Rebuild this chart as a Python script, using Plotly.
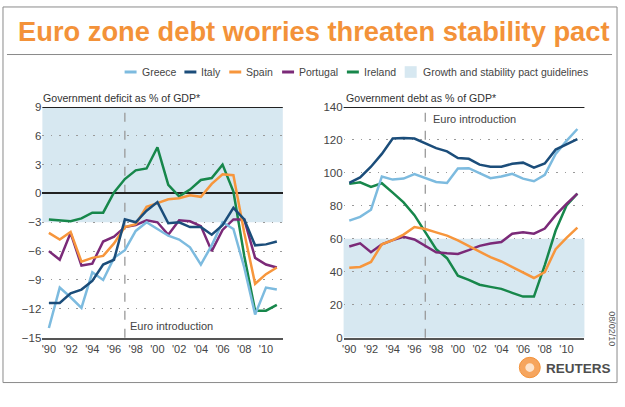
import plotly.graph_objects as go

W, H = 625, 407

years = list(range(1990, 2012))

# Government deficit as % of GDP
greece_def = [-14.0, -9.8, -10.8, -11.9, -8.2, -9.0, -6.7, -5.9, -3.9, -3.0, -3.7,
              -4.4, -4.8, -5.6, -7.4, -5.4, -3.0, -3.7, -7.7, -12.6, -9.8, -10.0]
italy_def = [-11.4, -11.4, -10.4, -10.0, -9.1, -7.4, -6.9, -2.7, -3.0, -1.8, -0.9,
             -3.1, -3.0, -3.5, -3.5, -4.3, -3.3, -1.5, -2.7, -5.4, -5.3, -5.0]
spain_def = [-4.1, -4.8, -4.0, -7.1, -6.7, -6.5, -5.2, -3.5, -3.2, -1.4, -1.0,
             -0.6, -0.5, -0.2, -0.35, 1.0, 2.0, 1.9, -4.1, -9.4, -8.4, -7.7]
portugal_def = [-6.0, -6.9, -4.1, -7.5, -7.3, -5.0, -4.5, -3.5, -3.3, -2.8, -3.0,
                -4.3, -2.8, -2.9, -3.4, -6.0, -3.8, -2.7, -2.7, -6.7, -7.4, -7.7]
ireland_def = [-2.7, -2.8, -2.9, -2.6, -2.0, -2.0, 0.1, 1.5, 2.4, 2.6, 4.8,
               0.9, -0.3, 0.4, 1.4, 1.6, 3.0, 0.2, -6.5, -12.2, -12.2, -11.6]

# Government debt as % of GDP
greece_debt = [71.0, 73.3, 77.6, 97.8, 95.9, 96.5, 99.2, 96.8, 94.5, 93.9, 102.7,
               102.8, 99.8, 96.8, 97.8, 99.4, 96.5, 94.9, 98.8, 111.5, 119.4, 126.6]
italy_debt = [93.9, 97.2, 103.7, 111.5, 120.8, 121.2, 120.8, 118.0, 115.0, 113.0, 109.0,
              108.5, 105.0, 103.7, 103.7, 105.5, 106.2, 103.1, 105.7, 114.1, 117.4, 120.4]
spain_debt = [42.4, 42.9, 45.9, 56.6, 59.2, 62.5, 67.1, 65.9, 63.9, 61.9, 59.0,
              55.5, 52.5, 48.8, 46.2, 43.0, 39.6, 36.2, 39.8, 53.7, 60.6, 66.8]
portugal_debt = [55.3, 57.2, 51.8, 56.6, 59.2, 61.2, 59.6, 55.7, 51.8, 51.2, 50.8,
                 53.1, 55.7, 57.1, 58.0, 63.1, 63.9, 63.1, 66.2, 74.3, 81.2, 87.4]
ireland_debt = [93.3, 94.3, 91.4, 93.7, 88.0, 82.1, 74.3, 64.0, 53.7, 48.2, 37.6,
                35.1, 32.1, 30.8, 29.6, 27.2, 24.9, 24.9, 44.0, 65.0, 80.2, 87.4]

countries = ["Greece", "Italy", "Spain", "Portugal", "Ireland"]
colors = {"Greece": "#7dbbdf", "Italy": "#1b4d7a", "Spain": "#f7963c",
          "Portugal": "#7b2a78", "Ireland": "#17874b"}
deficit = {"Greece": greece_def, "Italy": italy_def, "Spain": spain_def,
           "Portugal": portugal_def, "Ireland": ireland_def}
debt = {"Greece": greece_debt, "Italy": italy_debt, "Spain": spain_debt,
        "Portugal": portugal_debt, "Ireland": ireland_debt}

xtick_vals = list(range(1990, 2011, 2))
xtick_text = ["'90", "'92", "'94", "'96", "'98", "'00", "'02", "'04", "'06", "'08", "'10"]
def_ticks = [9, 6, 3, 0, -3, -6, -9, -12, -15]
debt_ticks = [140, 120, 100, 80, 60, 40, 20, 0]
euro_year = 1997
pact_deficit = [-3, 9]
pact_debt = [0, 60]

FONT = "Liberation Sans, Arial, sans-serif"
TXT = "#444444"

def px(x):
    return x / W

def py(y):
    return 1 - y / H

fig = go.Figure()
draw_order = ["Ireland", "Portugal", "Spain", "Greece", "Italy"]
for c in draw_order:
    fig.add_trace(go.Scatter(x=years, y=deficit[c], mode="lines", name=c,
                             line=dict(color=colors[c], width=2.5),
                             xaxis="x", yaxis="y", showlegend=False))
    fig.add_trace(go.Scatter(x=years, y=debt[c], mode="lines", name=c,
                             line=dict(color=colors[c], width=2.5),
                             xaxis="x2", yaxis="y2", showlegend=False))

ydom = [py(341.7), py(104)]
common_x = dict(tickvals=xtick_vals, ticktext=xtick_text, showgrid=False,
                zeroline=False, showline=True, linecolor="#555555", linewidth=1.5,
                ticks="", tickfont=dict(family=FONT, size=11, color=TXT))
common_y = dict(showgrid=True, gridcolor="#9a9a9a", griddash="1.5px,7px", gridwidth=1.3,
                ticks="", tickfont=dict(family=FONT, size=11.5, color=TXT),
                showline=False)

fig.update_layout(
    width=W, height=H, margin=dict(l=0, r=0, t=0, b=0),
    paper_bgcolor="white", plot_bgcolor="rgba(0,0,0,0)",
    showlegend=False,
    xaxis=dict(domain=[px(40.5), px(281.7)], range=[1989.4, 2011.55], anchor="y", **common_x),
    yaxis=dict(domain=ydom, range=[-15, 9], tickvals=def_ticks, anchor="x",
               zeroline=True, zerolinecolor="#222222", zerolinewidth=2, **common_y),
    xaxis2=dict(domain=[px(342.7), px(584.3)], range=[1989.48, 2011.65], anchor="y2", **common_x),
    yaxis2=dict(domain=ydom, range=[0, 140], tickvals=debt_ticks, anchor="x2",
                zeroline=False, **common_y),
)

shapes = []
# pact guideline shading
shapes.append(dict(type="rect", xref="x domain", yref="y", x0=0, x1=1,
                   y0=pact_deficit[0], y1=pact_deficit[1], fillcolor="#d7e8f1",
                   line=dict(width=0), layer="below"))
shapes.append(dict(type="rect", xref="x2 domain", yref="y2", x0=0, x1=1,
                   y0=pact_debt[0], y1=pact_debt[1], fillcolor="#d7e8f1",
                   line=dict(width=0), layer="below"))
# top black lines
shapes.append(dict(type="line", xref="x domain", yref="y", x0=0, x1=1, y0=9, y1=9,
                   line=dict(color="#222222", width=2)))
shapes.append(dict(type="line", xref="x2 domain", yref="y2", x0=0, x1=1, y0=140, y1=140,
                   line=dict(color="#222222", width=2)))
# euro introduction dashed lines
shapes.append(dict(type="line", xref="x", yref="y domain", x0=euro_year, x1=euro_year,
                   y0=0, y1=1, line=dict(color="#999999", width=1.3, dash="dash"), layer="below"))
shapes.append(dict(type="line", xref="x2", yref="y2 domain", x0=euro_year, x1=euro_year,
                   y0=0, y1=1, line=dict(color="#999999", width=1.3, dash="dash"), layer="below"))
# frame and title rule
shapes.append(dict(type="rect", xref="paper", yref="paper", x0=px(1), x1=px(617),
                   y0=py(388), y1=py(1), line=dict(color="#8a8a8a", width=1)))
shapes.append(dict(type="line", xref="paper", yref="paper", x0=px(5), x1=px(612),
                   y0=py(50), y1=py(50), line=dict(color="#8a8a8a", width=1)))

annotations = []
# title
annotations.append(dict(text="<b>Euro zone debt worries threaten stability pact</b>",
                        xref="paper", yref="paper", x=px(14), y=py(26),
                        xanchor="left", yanchor="middle", showarrow=False,
                        font=dict(family=FONT, size=27.3, color="#f39239")))

# legend
LEG = 10.5
leg_y = 68
leg_items = [("Greece", 123), ("Italy", 183), ("Spain", 228), ("Portugal", 281), ("Ireland", 346)]
for name, x0 in leg_items:
    shapes.append(dict(type="line", xref="paper", yref="paper", x0=px(x0), x1=px(x0 + 12),
                       y0=py(leg_y), y1=py(leg_y), line=dict(color=colors[name], width=3)))
    annotations.append(dict(text=name, xref="paper", yref="paper", x=px(x0 + 15), y=py(leg_y),
                            xanchor="left", yanchor="middle", showarrow=False,
                            font=dict(family=FONT, size=LEG, color=TXT)))
shapes.append(dict(type="rect", xref="paper", yref="paper", x0=px(404), x1=px(416),
                   y0=py(leg_y + 6), y1=py(leg_y - 6), fillcolor="#d7e8f1", line=dict(width=0)))
annotations.append(dict(text="Growth and stability pact guidelines", xref="paper", yref="paper",
                        x=px(420), y=py(leg_y), xanchor="left", yanchor="middle", showarrow=False,
                        font=dict(family=FONT, size=LEG, color=TXT)))

# panel subtitles
annotations.append(dict(text="Government deficit as % of GDP*", xref="paper", yref="paper",
                        x=px(39), y=py(95), xanchor="left", yanchor="middle", showarrow=False,
                        font=dict(family=FONT, size=10.6, color="#333333")))
annotations.append(dict(text="Government debt as % of GDP*", xref="paper", yref="paper",
                        x=px(343), y=py(95), xanchor="left", yanchor="middle", showarrow=False,
                        font=dict(family=FONT, size=10.6, color="#333333")))
# euro introduction labels
annotations.append(dict(text="Euro introduction", xref="x", yref="y", x=euro_year, y=-13.8,
                        xanchor="left", yanchor="middle", xshift=3, showarrow=False,
                        font=dict(family=FONT, size=11, color=TXT)))
annotations.append(dict(text="Euro introduction", xref="x2", yref="y2", x=euro_year, y=132.5,
                        xanchor="left", yanchor="middle", xshift=6, showarrow=False,
                        font=dict(family=FONT, size=11, color=TXT)))
# date
annotations.append(dict(text="08/02/10", xref="paper", yref="paper", x=px(612), y=py(332),
                        xanchor="center", yanchor="middle", textangle=90, showarrow=False,
                        font=dict(family=FONT, size=9, color="#555555")))
# Reuters logo
shapes.append(dict(type="circle", xref="paper", yref="paper", x0=px(519), x1=px(540),
                   y0=py(383), y1=py(362), fillcolor="#f6a55e", line=dict(color="#f39239", width=1)))
shapes.append(dict(type="circle", xref="paper", yref="paper", x0=px(525), x1=px(534),
                   y0=py(377), y1=py(368), fillcolor="#fde3cc", line=dict(width=0)))
annotations.append(dict(text="<b>REUTERS</b>", xref="paper", yref="paper", x=px(544), y=py(373),
                        xanchor="left", yanchor="middle", showarrow=False,
                        font=dict(family=FONT, size=13.5, color="#4d4d4d")))

fig.update_layout(shapes=shapes, annotations=annotations)
fig.write_html("out.html")
